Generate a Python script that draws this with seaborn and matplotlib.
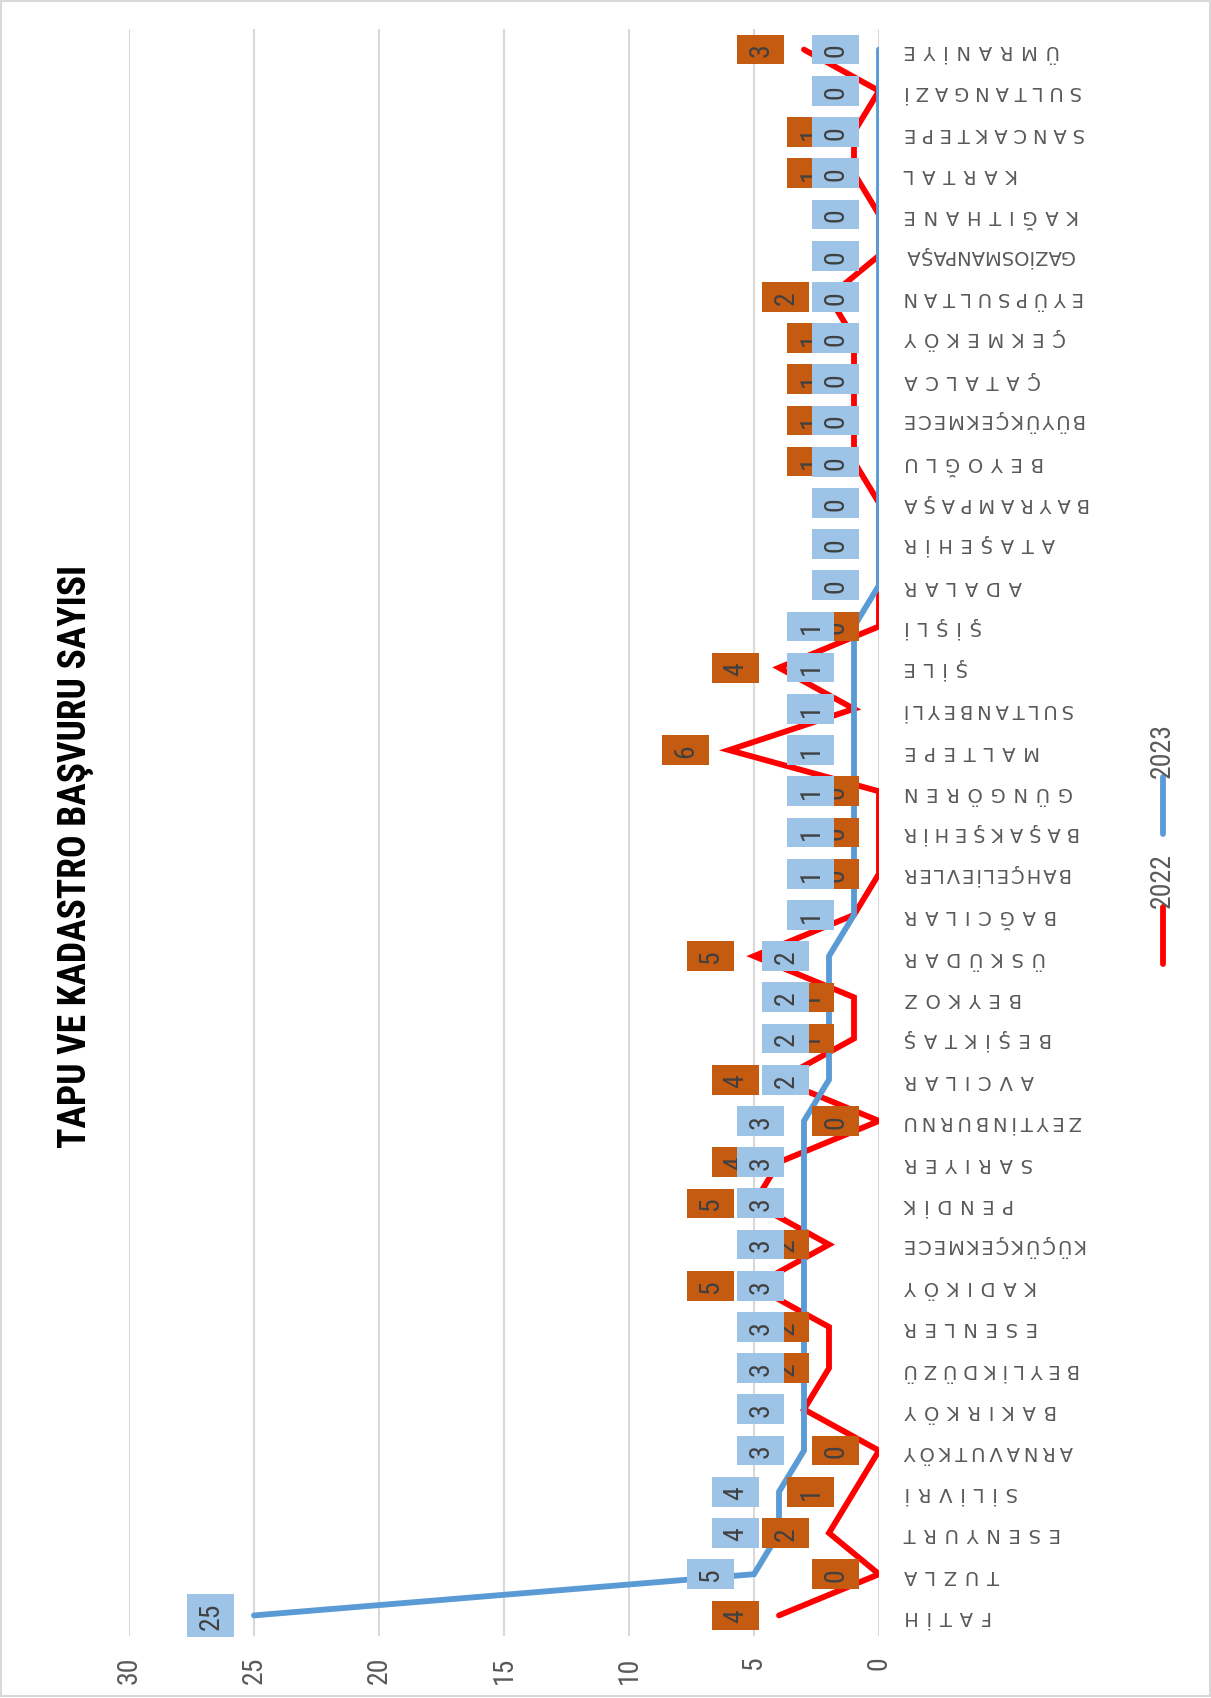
import matplotlib
matplotlib.use("Agg")
import matplotlib.pyplot as plt
import pandas as pd
import seaborn as sns
from matplotlib import font_manager as fm
from matplotlib.lines import Line2D
from matplotlib.patches import Rectangle
from matplotlib.path import Path

# districts in the order they appear along the category axis (bottom to top)
districts = [
    "FATİH", "TUZLA", "ESENYURT", "SİLİVRİ", "ARNAVUTKÖY", "BAKIRKÖY",
    "BEYLİKDÜZÜ", "ESENLER", "KADIKÖY", "KÜÇÜKÇEKMECE", "PENDİK", "SARIYER",
    "ZEYTİNBURNU", "AVCILAR", "BEŞİKTAŞ", "BEYKOZ", "ÜSKÜDAR", "BAĞCILAR",
    "BAHÇELİEVLER", "BAŞAKŞEHİR", "GÜNGÖREN", "MALTEPE", "SULTANBEYLİ",
    "ŞİLE", "ŞİŞLİ", "ADALAR", "ATAŞEHİR", "BAYRAMPAŞA", "BEYOĞLU",
    "BÜYÜKÇEKMECE", "ÇATALCA", "ÇEKMEKÖY", "EYÜPSULTAN", "GAZİOSMANPAŞA",
    "KAĞITHANE", "KARTAL", "SANCAKTEPE", "SULTANGAZİ", "ÜMRANİYE",
]
counts_2022 = [4, 0, 2, 1, 0, 3, 2, 2, 5, 2, 5, 4, 0, 4, 1, 1, 5, 1, 0, 0,
               0, 6, 1, 4, 0, 0, 0, 0, 1, 1, 1, 1, 2, 0, 0, 1, 1, 0, 3]
counts_2023 = [25, 5, 4, 4, 3, 3, 3, 3, 3, 3, 3, 3, 3, 2, 2, 2, 2, 1, 1, 1,
               1, 1, 1, 1, 1, 0, 0, 0, 0, 0, 0, 0, 0, 0, 0, 0, 0, 0, 0]
years = ["2022", "2023"]
value_ticks = [0, 5, 10, 15, 20, 25, 30]
title = "TAPU VE KADASTRO BAŞVURU SAYISI"

line_colors = {"2022": "#FF0000", "2023": "#5B9BD5"}
box_colors = {"2022": "#C55A11", "2023": "#9DC3E6"}
grey_text = "#595959"

W, H = 1211, 1699


def pick_narrow_font():
    """First condensed family that is really installed, else a plain one."""
    candidates = [("Liberation Sans Narrow", "normal"), ("Roboto Condensed", "normal"),
                  ("DejaVu Sans", "condensed"), ("Open Sans", "condensed")]
    for fam, stretch in candidates:
        try:
            path = fm.findfont(fm.FontProperties(family=fam, stretch=stretch),
                               fallback_to_default=False)
        except ValueError:
            continue
        if stretch == "normal" or "ondensed" in path:
            return fam, stretch, True
    return "Liberation Sans", "normal", False


narrow_fam, narrow_stretch, is_narrow = pick_narrow_font()
digit_size = 20 if is_narrow else 18

sns.set_theme(style="white")
plt.rcParams["font.family"] = [narrow_fam, "DejaVu Sans"]
plt.rcParams["font.stretch"] = narrow_stretch


def label_box(x0, y0, width, height, mutation_size):
    # fixed 47 px across the reading direction, 8 px side padding along it
    px = 8.0
    py = max(0.0, (47.0 - height) / 2)
    verts = [(x0 - px, y0 - py), (x0 + width + px, y0 - py),
             (x0 + width + px, y0 + height + py), (x0 - px, y0 + height + py),
             (x0 - px, y0 - py)]
    return Path(verts, closed=True)


df = pd.DataFrame({
    "district": districts * 2,
    "pos": list(range(len(districts))) * 2,
    "year": [years[0]] * len(districts) + [years[1]] * len(districts),
    "value": counts_2022 + counts_2023,
})

fig = plt.figure(figsize=(W / 100, H / 100), dpi=100)
ax = fig.add_axes([129 / W, (H - 1637) / H, 750 / W, 1607 / H])
renderer = fig.canvas.get_renderer()

sns.lineplot(data=df, x="value", y="pos", hue="year", hue_order=years,
             palette=line_colors, orient="y", sort=False, estimator=None,
             linewidth=4.2, legend=False, ax=ax,
             solid_joinstyle="miter", solid_capstyle="round")

# data labels: 2022 first so 2023 boxes sit on top
for i, yr in enumerate(years):
    sub = df[df["year"] == yr]
    for v, p in zip(sub["value"], sub["pos"]):
        ax.annotate(str(v), xy=(v, p), xytext=(-31, 0), textcoords="offset points",
                    ha="center", va="center", rotation=90, fontsize=digit_size,
                    color="#404040", zorder=5 + i,
                    bbox=dict(boxstyle=label_box, fc=box_colors[yr], ec="none"))

ax.set_xlim(30, 0)
ax.set_ylim(-0.5, len(districts) - 0.5)
ax.set_xticks(value_ticks)
ax.set_xticklabels([str(t) for t in value_ticks], rotation=90,
                   fontsize=digit_size, color=grey_text)
ax.tick_params(axis="x", length=0, pad=14)
ax.grid(axis="x", color="#D9D9D9", linewidth=1.5)
ax.grid(axis="y", visible=False)
for s in ax.spines.values():
    s.set_visible(False)
ax.set_xlabel("")
ax.set_ylabel("")


# category labels: letter-spaced, squeezed when the name is long
def spaced_label(name, limit=186):
    for sep in ["\u2009\u2009", "\u2009\u200a", "\u2009", "\u200a", ""]:
        txt = sep.join(name)
        t = fig.text(0, 0, txt, fontsize=14, family=["DejaVu Sans"], fontstretch="normal")
        w = t.get_window_extent(renderer).width
        t.remove()
        if w <= limit:
            return txt
    return name


ax.yaxis.tick_right()
ax.set_yticks(range(len(districts)))
ax.set_yticklabels([spaced_label(d) for d in districts], rotation=180,
                   fontsize=14, color=grey_text, family=["DejaVu Sans"],
                   fontstretch="normal", ha="left", va="center")
ax.tick_params(axis="y", length=0, pad=18)

# title, rotated with the rest of the chart; sized to its length in the reference
t_title = fig.text(76 / W, 1 - 856 / H, title, rotation=90, ha="center", va="center",
                   fontsize=30, fontweight="bold", color="black")
tl = t_title.get_window_extent(renderer).height
t_title.set_fontsize(30 * 583 / tl)

# legend drawn by hand, vertical like the chart
for yr, (y0, y1, yt) in zip(years, [(908, 965, 880), (778, 835, 751)]):
    fig.add_artist(Line2D([1163 / W, 1163 / W], [1 - y0 / H, 1 - y1 / H],
                          color=line_colors[yr], linewidth=4.2, solid_capstyle="round"))
    fig.text(1162 / W, 1 - yt / H, yr, rotation=90, ha="center", va="center",
             fontsize=digit_size, color=grey_text)

fig.add_artist(Rectangle((0.001, 0.001), 0.998, 0.998, transform=fig.transFigure,
                         fill=False, edgecolor="#D9D9D9", linewidth=1.5))

fig.savefig("out.png", dpi=100)
